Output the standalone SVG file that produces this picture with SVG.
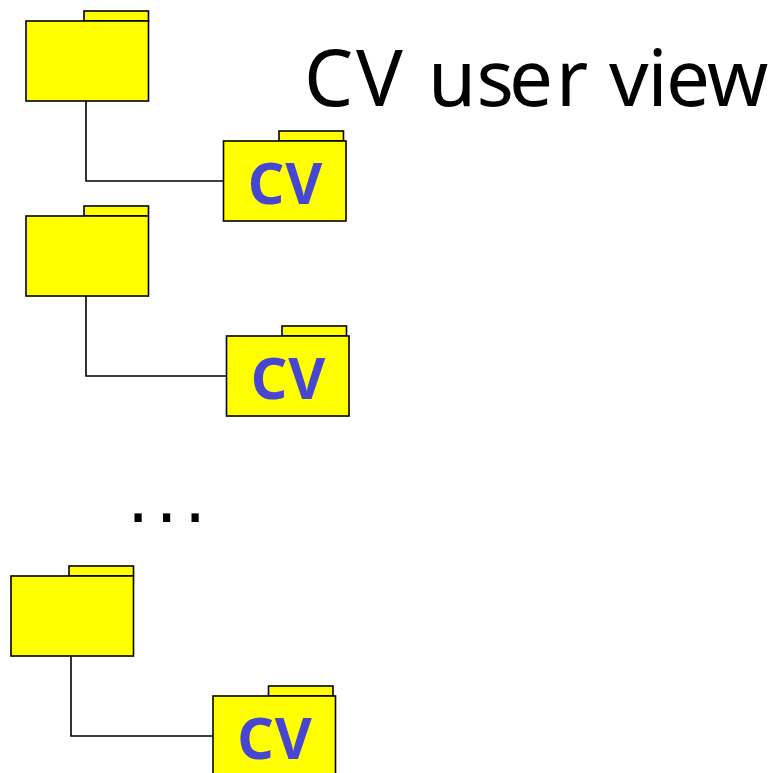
<svg xmlns="http://www.w3.org/2000/svg" width="770" height="773" viewBox="0 0 770 773">
<style>
.f{fill:#ffff00;stroke:#000;stroke-width:1.6}
.c{fill:none;stroke:#000;stroke-width:1.6}
.l{font-family:"Noto Sans",sans-serif;font-weight:700;font-size:57px;fill:#4646d2;text-anchor:middle;letter-spacing:1px}
.t{font-family:"Noto Sans",sans-serif;fill:#000}
</style>
<defs>
<g id="body"><rect class="f" x="0" y="10" width="122.500" height="80"/></g>
<rect id="tabA" class="f" x="58" y="0" width="64.500" height="10"/>
<rect id="tabB" class="f" x="55.500" y="0" width="64.500" height="10"/>
</defs>
<rect width="770" height="773" fill="#fff"/>
<g id="connectors">
<path class="c" d="M86 101V181H223.500"/>
<path class="c" d="M86 296V376H226.500"/>
<path class="c" d="M71 656V736H213.500"/>
</g>
<g id="folder1"><use href="#tabA" x="26" y="11"/><use href="#body" x="26" y="11"/></g>
<g id="cv1"><use href="#tabB" x="223.500" y="131"/><use href="#body" x="223.500" y="131"/><text class="l" x="285.500" y="203.500">CV</text></g>
<g id="folder2"><use href="#tabA" x="26" y="206"/><use href="#body" x="26" y="206"/></g>
<g id="cv2"><use href="#tabB" x="226.500" y="326"/><use href="#body" x="226.500" y="326"/><text class="l" x="288.500" y="398.500">CV</text></g>
<g id="folder3"><use href="#tabA" x="11" y="566"/><use href="#body" x="11" y="566"/></g>
<g id="cv3"><use href="#tabB" x="213" y="686"/><use href="#body" x="213" y="686"/><text class="l" x="275" y="758.500">CV</text></g>
<text id="title" class="t" y="106" font-size="78" x="304 356 410 428 476.500 509 556 590 609 647.500 666 707">CV user view</text>
<text id="dots" y="522" font-size="70" letter-spacing="6.200" x="127" font-family="DejaVu Sans, sans-serif" fill="#000">...</text>
</svg>
